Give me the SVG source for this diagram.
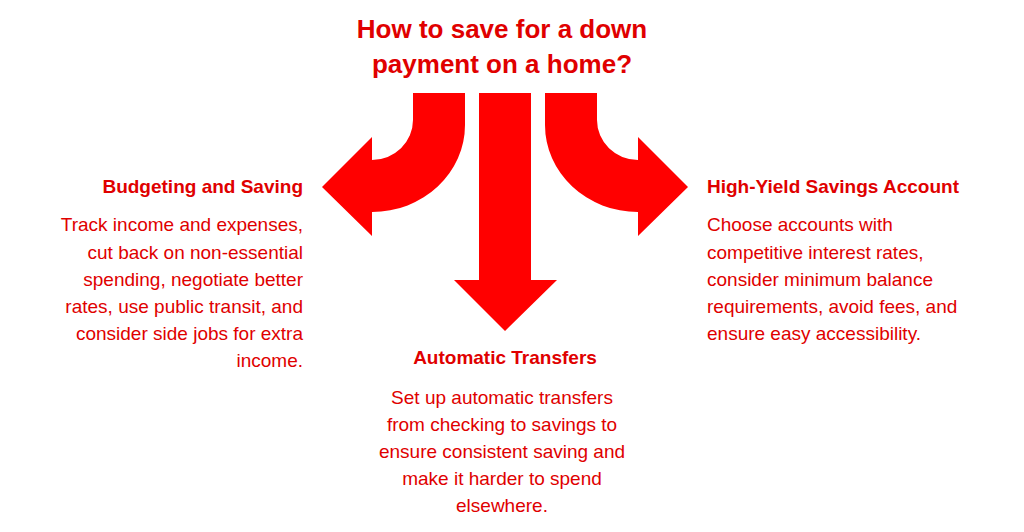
<svg xmlns="http://www.w3.org/2000/svg" width="1024" height="532" viewBox="0 0 1024 532">
<style>
text{font-family:"Liberation Sans",Arial,sans-serif;fill:#e00000}
.t{font-size:26px;font-weight:bold;text-anchor:middle}
.h{font-size:19px;font-weight:bold}
.b{font-size:19px}
.arr{fill:#ff0000}
</style>
<rect width="1024" height="532" fill="#fff"/>
<g id="title"><text class="t" x="502" y="38">How to save for a down</text><text class="t" x="502" y="73">payment on a home?</text></g>
<g id="connectors">
<path class="arr" d="M413,93 L465,93 L465,125 A93,87 0 0 1 372,212 L372,236 L322,187 L372,137 L372,160 A41,40 0 0 0 413,120 Z"/>
<path class="arr" d="M479,93 L531,93 L531,280 L557,280 L505,331 L454,280 L479,280 Z"/>
<path class="arr" d="M597,93 L545,93 L545,125 A93,87 0 0 0 638,212 L638,236 L688,187 L638,137 L638,160 A41,40 0 0 1 597,120 Z"/>
</g>
<g id="budgeting" text-anchor="end">
<text class="h" x="303" y="193">Budgeting and Saving</text>
<text class="b" x="303" y="231">Track income and expenses,</text>
<text class="b" x="303" y="259">cut back on non-essential</text>
<text class="b" x="303" y="286">spending, negotiate better</text>
<text class="b" x="303" y="313">rates, use public transit, and</text>
<text class="b" x="303" y="340">consider side jobs for extra</text>
<text class="b" x="303" y="367">income.</text>
</g>
<g id="highyield">
<text class="h" x="707" y="193">High-Yield Savings Account</text>
<text class="b" x="707" y="231">Choose accounts with</text>
<text class="b" x="707" y="259">competitive interest rates,</text>
<text class="b" x="707" y="286">consider minimum balance</text>
<text class="b" x="707" y="313">requirements, avoid fees, and</text>
<text class="b" x="707" y="340">ensure easy accessibility.</text>
</g>
<g id="automatic" text-anchor="middle">
<text class="h" x="505" y="364">Automatic Transfers</text>
<text class="b" x="502" y="404">Set up automatic transfers</text>
<text class="b" x="502" y="431">from checking to savings to</text>
<text class="b" x="502" y="458">ensure consistent saving and</text>
<text class="b" x="502" y="485">make it harder to spend</text>
<text class="b" x="502" y="512">elsewhere.</text>
</g>
</svg>
